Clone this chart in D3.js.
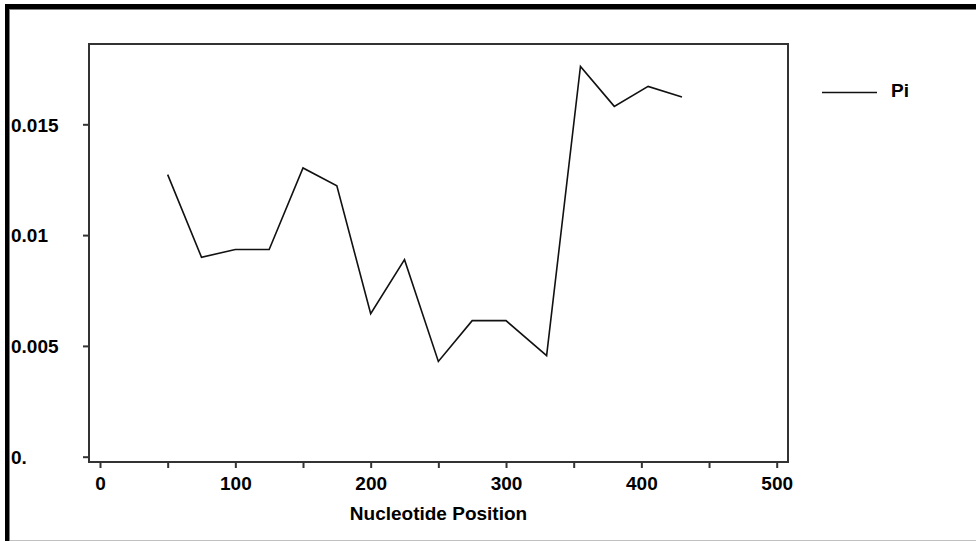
<!doctype html>
<html>
<head>
<meta charset="UTF-8">
<title>Pi</title>
<script src="https://d3js.org/d3.v7.min.js"></script>
<style>
  body { margin: 0; background: #fff; }
  svg { display: block; }
  text { font-family: "Liberation Sans", Arial, sans-serif; font-weight: bold; font-size: 19px; fill: #000; }
</style>
</head>
<body>
<svg id="chart" width="976" height="541"></svg>
<script>
// data
var positions = [50, 75, 100, 125, 150, 175, 200, 225, 250, 275, 300, 330, 355, 380, 405, 430];
var piValues = [0.01273, 0.0090, 0.00935, 0.00935, 0.01303, 0.01223, 0.00645, 0.00889,
                0.0043, 0.00614, 0.00614, 0.00456, 0.01761, 0.01581, 0.01671, 0.01623];
var xTicks = [0, 50, 100, 150, 200, 250, 300, 350, 400, 450, 500];
var yTicks = [0, 0.005, 0.01, 0.015];
var yTickLabels = ["0.", "0.005", "0.01", "0.015"];
var seriesName = "Pi";
var xTitle = "Nucleotide Position";

var svg = d3.select("#chart");

// window frame (sunken panel look)
svg.append("rect").attr("x", 5).attr("y", 4).attr("width", 980).attr("height", 560).attr("fill", "#000");
svg.append("rect").attr("x", 9).attr("y", 9).attr("width", 980).attr("height", 560).attr("fill", "#808080");
svg.append("rect").attr("x", 10).attr("y", 10).attr("width", 980).attr("height", 530).attr("fill", "#fff");
svg.append("line").attr("x1", 10).attr("x2", 976).attr("y1", 540.5).attr("y2", 540.5)
  .attr("stroke", "#c0c0c0");

var box = {left: 89, top: 44, right: 788, bottom: 462};

var x = d3.scaleLinear().domain([0, 500]).range([100, 776.7]);
var y = d3.scaleLinear().domain([0, 0.015]).range([456.7, 124.3]);

// x axis
var xAxis = svg.append("g")
  .attr("transform", "translate(0," + box.bottom + ")")
  .call(d3.axisBottom(x)
    .tickValues(xTicks)
    .tickSizeInner(6)
    .tickSizeOuter(0)
    .tickPadding(7)
    .tickFormat(function (d) { return d % 100 === 0 ? d : ""; }));
xAxis.select(".domain").remove();
xAxis.selectAll(".tick line").attr("stroke", "#333").attr("stroke-width", 2);
xAxis.selectAll(".tick text").attr("font-size", null).attr("font-family", null).attr("dy", "0.8em");

// y axis
var yAxis = svg.append("g")
  .attr("transform", "translate(" + box.left + ",0)")
  .call(d3.axisLeft(y)
    .tickValues(yTicks)
    .tickSizeInner(6)
    .tickSizeOuter(0)
    .tickFormat(function (d, i) { return yTickLabels[i]; }));
yAxis.select(".domain").remove();
yAxis.selectAll(".tick line").attr("stroke", "#333").attr("stroke-width", 2);
yAxis.selectAll(".tick text")
  .attr("font-size", null).attr("font-family", null)
  .attr("text-anchor", "start")
  .attr("x", 11 - box.left)
  .attr("dy", "0.36em");

// plot frame
svg.append("rect")
  .attr("x", box.left).attr("y", box.top)
  .attr("width", box.right - box.left).attr("height", box.bottom - box.top)
  .attr("fill", "none").attr("stroke", "#333").attr("stroke-width", 2);

// series line
var line = d3.line()
  .x(function (d, i) { return x(positions[i]); })
  .y(function (d) { return y(d); });

svg.append("path")
  .datum(piValues)
  .attr("d", line)
  .attr("fill", "none")
  .attr("stroke", "#111")
  .attr("stroke-width", 1.6);

// x title
svg.append("text")
  .attr("x", (box.left + box.right) / 2)
  .attr("y", 520)
  .attr("text-anchor", "middle")
  .text(xTitle);

// legend
svg.append("line")
  .attr("x1", 822).attr("x2", 877).attr("y1", 92.5).attr("y2", 92.5)
  .attr("stroke", "#111").attr("stroke-width", 1.6);
svg.append("text")
  .attr("x", 891).attr("y", 97)
  .text(seriesName);
</script>
</body>
</html>
